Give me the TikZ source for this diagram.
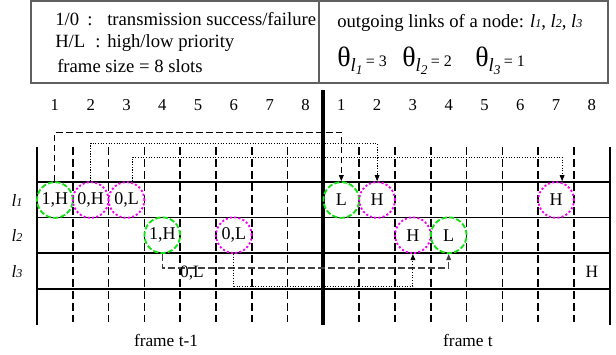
\documentclass[tikz,border=0pt]{standalone}
\usepackage{fontspec}
\setmainfont{Liberation Serif}
\definecolor{okgreen}{RGB}{20,225,20}
\definecolor{failmag}{RGB}{245,0,245}
\definecolor{frm}{HTML}{606060}
\usetikzlibrary{arrows.meta}
\newcommand{\lnk}[1]{\textit{l}{\fontsize{9}{9}\selectfont\textit{#1}}}
\newcommand{\thl}[2]{{\fontsize{21}{21}\selectfont θ}\raisebox{-4pt}{\fontsize{14}{14}\selectfont\textit{l}\raisebox{-2pt}{\fontsize{10}{10}\selectfont\textit{#1}}}\hspace{2.5pt}{\fontsize{12}{12}\selectfont= #2}}

\begin{document}
\begin{tikzpicture}[x=0.75pt,y=-0.75pt,
    ok/.style={circle,draw=okgreen,line width=1.4pt,dash pattern=on 4pt off 1.6pt,
      minimum size=26.8pt,inner sep=0pt,font=\fontsize{13.5}{13.5}\selectfont},
    fl/.style={circle,draw=failmag,line width=1.4pt,dash pattern=on 1.6pt off 1.6pt,
      minimum size=26.8pt,inner sep=0pt,font=\fontsize{13.5}{13.5}\selectfont},
    lbl/.style={inner sep=0pt,font=\fontsize{13}{13}\selectfont},
    num/.style={inner sep=0pt,font=\fontsize{12.5}{12.5}\selectfont},
    leg/.style={anchor=base west,inner sep=0pt,font=\fontsize{14}{16}\selectfont},
    slot/.style={line width=1.1pt,dash pattern=on 6pt off 3pt},
    row/.style={line width=1pt},
    dl/.style={line width=0.8pt,dash pattern=on 5pt off 2.5pt,-{Triangle[length=4.5pt,width=3.5pt]}},
    dt/.style={line width=0.7pt,dash pattern=on 0.8pt off 1.2pt,-{Triangle[length=4.5pt,width=3.5pt]}},
  ]
    \useasboundingbox (0,0) rectangle (616,354);
    % legend
    \draw[frm,line width=1pt] (31,1) rectangle (319,83);
    \draw[frm,line width=1pt] (319,1) rectangle (608,83);
    \node[leg](k1) at (55,25) {1/0};
    \node[leg](k1c) at (87,25) {:};
    \node[leg](k1t) at (107,25) {transmission success/failure};
    \node[leg](k2) at (55,47) {H/L};
    \node[leg](k2c) at (95,47) {:};
    \node[leg](k2t) at (107,47) {high/low priority};
    \node[leg](k3) at (57,72) {frame size = 8 slots};
    \node[leg](o1) at (337,27) {outgoing links of a node: \lnk{1}, \lnk{2}, \lnk{3}};
    \node[leg](t1) at (337,66) {\thl{1}{3}};
    \node[leg](t2) at (402,66) {\thl{2}{2}};
    \node[leg](t3) at (475,66) {\thl{3}{1}};
    % grid
    \foreach \k in {1,...,7,9,10,...,15}
      \draw[slot] (37+35.8*\k,147) -- (37+35.8*\k,322);
    \draw[line width=1.5pt] (37,147) -- (37,325);
    \draw[line width=3pt] (323.4,90) -- (323.4,325);
    \draw[line width=1.1pt] (609.8,147) -- (609.8,325);
    \foreach \y in {182,217.5,253,289}
      \draw[row] (37,\y) -- (609.8,\y);
    \foreach \k in {1,...,8}{
      \node[num](p\k) at (19.1+35.8*\k,105) {\k};
      \node[num](c\k) at (305.5+35.8*\k,105) {\k};
    }
    \node[lbl](r1) at (17,200) {\lnk{1}};
    \node[lbl](r2) at (17,235) {\lnk{2}};
    \node[lbl](r3) at (17,272) {\lnk{3}};
    % frame t-1
    \node[ok](a1) at (54.9,200) {1,H};
    \node[fl](a2) at (90.7,200) {0,H};
    \node[fl](a3) at (126.5,200) {0,L};
    \node[ok](a4) at (162.3,235.2) {1,H};
    \node[fl](a6) at (233.9,235.2) {0,L};
    % frame t
    \node[ok](b1) at (341.3,200) {L};
    \node[fl](b2) at (377.1,200) {H};
    \node[fl](b7) at (556.1,200) {H};
    \node[fl](b3) at (412.9,235.2) {H};
    \node[ok](b4) at (448.7,235.2) {L};
    \node[lbl](b8) at (591.9,272) {H};
    % deferred transmissions
    \draw[dl] (a1.north) -- ++(0,-49) -| (b1.north);
    \draw[dt] (a2.north) -- ++(0,-38) -| (b2.north);
    \draw[dt] ([xshift=4.5pt]a3.north) -- ++(0,-24) -| ([xshift=4.5pt]b7.north);
    \draw[dl,black!75] (a4.south) -- ++(0,14) -| (b4.south);
    \draw[dt] (a6.south) -- ++(0,32) -| (b3.south);
    \node[lbl](z3) at (192,273) {0,L};
    \node[lbl](f0) at (166,340) {frame t-1};
    \node[lbl](f1) at (468,340) {frame t};
  \end{tikzpicture}
\end{document}
